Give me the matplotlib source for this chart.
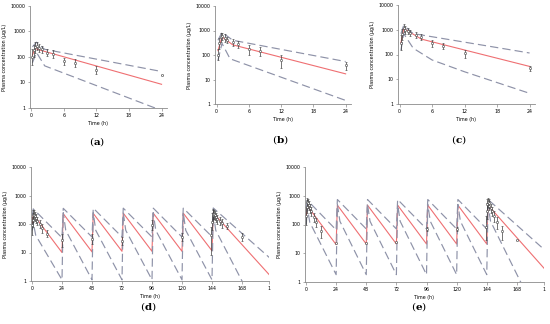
import matplotlib
matplotlib.use("Agg")
import matplotlib.pyplot as plt
import numpy as np

# ---------------------------------------------------------------------
# Data
# ---------------------------------------------------------------------

# single dose panels (a)-(c): observed sampling times
obs_t_single = [0.25, 0.5, 0.75, 1, 1.5, 2, 3, 4, 6, 8, 12, 24]

# (a)
a_med_t = [0.25, 0.75, 1.5, 24]
a_med_v = [120, 220, 190, 8.5]
a_hi_t = [0.25, 1.0, 2.5, 24]
a_hi_v = [250, 380, 200, 27]
a_lo_t = [0.25, 1.0, 2.5, 24]
a_lo_v = [60, 150, 45, 0.8]
a_obs = [100, 180, 250, 270, 230, 200, 150, 130, 70, 60, 32, 20]
a_obs_lo = [50, 100, 150, 180, 160, 140, 110, 90, 50, 40, 22, 20]
a_obs_hi = [200, 300, 400, 380, 330, 280, 200, 180, 95, 80, 45, 20]

# (b)
b_med_t = [0.25, 1.0, 3.0, 24]
b_med_v = [150, 550, 260, 17]
b_hi_t = [0.25, 1.0, 3.0, 24]
b_hi_v = [400, 850, 400, 54]
b_lo_t = [0.25, 1.0, 2.5, 24]
b_lo_v = [60, 300, 70, 1.4]
b_obs = [100, 300, 550, 600, 500, 420, 330, 290, 170, 140, 60, 38]
b_obs_lo = [60, 180, 350, 400, 350, 300, 230, 200, 100, 90, 30, 25]
b_obs_hi = [180, 500, 800, 800, 700, 560, 430, 380, 250, 210, 100, 50]

# (c)
c_med_t = [0.25, 0.75, 1.5, 4, 24]
c_med_v = [300, 1100, 900, 420, 33]
c_hi_t = [0.25, 0.75, 2.5, 24]
c_hi_v = [700, 1500, 700, 115]
c_lo_t = [0.25, 0.75, 2.5, 6, 12, 24]
c_lo_v = [150, 700, 180, 60, 20, 2.7]
c_obs = [300, 700, 1200, 1000, 900, 750, 600, 500, 280, 230, 110, 28]
c_obs_lo = [150, 400, 800, 700, 650, 550, 450, 400, 200, 170, 75, 22]
c_obs_hi = [600, 1100, 1700, 1400, 1200, 1000, 800, 700, 380, 300, 150, 35]

# multiple dose panels (d)-(e): observed sampling times
obs_t_multi = [0.25, 0.5, 1, 1.5, 2, 3, 4, 6, 8, 12, 24, 48, 72, 96, 120,
               143.5, 144.25, 144.5, 145, 145.5, 146, 147, 148, 150, 152, 156, 168]

# (d)
d_med_t = [0.25, 1, 24, 25, 48, 49, 72, 73, 96, 97, 120, 121, 144, 145, 192]
d_med_v = [100, 220, 10, 230, 10.5, 235, 11, 240, 11, 240, 11, 240, 11.5, 245, 1.3]
d_hi_t = [0.25, 1, 24, 25, 48, 49, 72, 73, 96, 97, 120, 121, 144, 145, 192]
d_hi_v = [200, 340, 33, 355, 35, 360, 35, 360, 35, 360, 35, 360, 36, 365, 5.5]
d_lo_t = [0.25, 1, 3, 24, 25, 27, 48, 49, 51, 72, 73, 75, 96, 97, 99, 120,
          121, 123, 144, 145, 147, 168, 180]
d_lo_v = [60, 110, 40, 1.1, 250, 60, 1.1, 250, 60, 1.1, 250, 60, 1.1, 250, 60, 1.1,
          250, 60, 1.1, 250, 60, 1.0, 0.2]
d_obs = [90, 140, 200, 210, 190, 160, 130, 100, 70, 45, 28, 30, 25, 90, 35,
         40, 120, 200, 230, 220, 200, 170, 150, 130, 110, 85, 35]
d_obs_lo = [40, 80, 120, 140, 130, 110, 90, 70, 50, 35, 15, 20, 18, 60, 25,
            8, 60, 120, 150, 150, 140, 120, 100, 90, 75, 65, 25]
d_obs_hi = [180, 250, 300, 300, 270, 230, 180, 140, 100, 60, 45, 45, 35, 140, 50,
            80, 250, 320, 330, 300, 280, 240, 200, 180, 150, 110, 50]

# (e)
e_med_t = [0.25, 1, 24, 25, 48, 49, 72, 73, 96, 97, 120, 121, 144, 145, 192]
e_med_v = [200, 450, 20, 470, 21, 470, 21, 470, 21, 470, 21, 470, 21, 470, 2.3]
e_hi_t = [0.25, 1, 24, 25, 48, 49, 72, 73, 96, 97, 120, 121, 144, 145, 192]
e_hi_v = [400, 700, 65, 740, 70, 740, 70, 740, 70, 740, 70, 740, 70, 740, 11]
e_lo_t = [0.25, 1, 3, 24, 25, 27, 48, 49, 51, 72, 73, 75, 96, 97, 99, 120,
          121, 123, 144, 145, 147, 171, 180]
e_lo_v = [100, 400, 120, 1.8, 500, 130, 1.8, 500, 130, 1.8, 500, 130, 1.8, 500, 130, 1.8,
          500, 130, 1.8, 500, 130, 1.0, 0.4]
e_obs = [200, 400, 600, 550, 480, 380, 300, 180, 120, 60, 22, 22, 25, 70, 70,
         80, 300, 500, 600, 550, 450, 380, 300, 200, 120, 60, 28]
e_obs_lo = [100, 250, 400, 380, 330, 260, 200, 120, 80, 35, 22, 22, 25, 60, 60,
            30, 150, 300, 400, 380, 320, 260, 200, 120, 70, 30, 28]
e_obs_hi = [400, 700, 850, 750, 650, 520, 420, 260, 170, 90, 22, 22, 25, 80, 80,
            200, 550, 800, 850, 780, 650, 520, 420, 300, 180, 90, 28]

y_ticks = [1, 10, 100, 1000, 10000]
y_ticklabels = ["1", "10", "100", "1000", "10000"]
x_ticks_single = [0, 6, 12, 18, 24]
x_ticks_multi = [0, 24, 48, 72, 96, 120, 144, 168, 189.6]
x_ticklabels_multi = ["0", "24", "48", "72", "96", "120", "144", "168", "1"]

RED = "#ef6f72"
DASH = "#8e92a8"
OBS = "#3c3c3c"
AXC = "#8a8a8a"
FS = 3.4

plt.rcParams["mathtext.fontset"] = "dejavuserif"


def draw_panel(ax, med, hi, lo, obs_t, obs, obs_lo, obs_hi, xlim, xticks, xticklabels):
    ax.plot(med[0], med[1], color=RED, lw=0.8)
    ax.plot(hi[0], hi[1], color=DASH, lw=0.85, dashes=(7, 3.5))
    ax.plot(lo[0], lo[1], color=DASH, lw=0.85, dashes=(7, 3.5))
    obs = np.array(obs, dtype=float)
    yerr = [obs - np.array(obs_lo), np.array(obs_hi) - obs]
    ax.errorbar(obs_t, obs, yerr=yerr, fmt="o", ms=1.6, mfc="white", mec=OBS,
                mew=0.4, ecolor=OBS, elinewidth=0.5, capsize=1.0, capthick=0.5)
    ax.set_yscale("log")
    ax.set_ylim(1, 10000)
    ax.set_xlim(*xlim)
    ax.set_yticks(y_ticks)
    ax.set_yticklabels(y_ticklabels)
    ax.minorticks_off()
    ax.set_xticks(xticks)
    ax.set_xticklabels(xticklabels)
    for s in ["top", "right"]:
        ax.spines[s].set_visible(False)
    for s in ["left", "bottom"]:
        ax.spines[s].set_color(AXC)
        ax.spines[s].set_linewidth(0.6)
    ax.tick_params(labelsize=FS, length=1.8, width=0.5, color=AXC, pad=1.8)
    ax.set_xlabel("Time (h)", fontsize=FS, labelpad=2.5)
    ax.set_ylabel("Plasma concentration (\u03bcg/L)", fontsize=FS, labelpad=2)


fig = plt.figure(figsize=(5.5, 3.24), dpi=100)
W, H = 550.0, 324.0


def rect(x0, y0, x1, y1):
    return [x0 / W, 1 - y1 / H, (x1 - x0) / W, (y1 - y0) / H]


ax_a = fig.add_axes(rect(30, 6, 167, 108))
draw_panel(ax_a, (a_med_t, a_med_v), (a_hi_t, a_hi_v), (a_lo_t, a_lo_v),
           obs_t_single, a_obs, a_obs_lo, a_obs_hi, (-0.2, 25), x_ticks_single,
           [str(t) for t in x_ticks_single])

ax_b = fig.add_axes(rect(215, 6, 351, 104))
draw_panel(ax_b, (b_med_t, b_med_v), (b_hi_t, b_hi_v), (b_lo_t, b_lo_v),
           obs_t_single, b_obs, b_obs_lo, b_obs_hi, (-0.3, 25), x_ticks_single,
           [str(t) for t in x_ticks_single])

ax_c = fig.add_axes(rect(398, 5, 535, 104))
draw_panel(ax_c, (c_med_t, c_med_v), (c_hi_t, c_hi_v), (c_lo_t, c_lo_v),
           obs_t_single, c_obs, c_obs_lo, c_obs_hi, (-0.3, 25), x_ticks_single,
           [str(t) for t in x_ticks_single])

ax_d = fig.add_axes(rect(31, 167, 269, 281))
draw_panel(ax_d, (d_med_t, d_med_v), (d_hi_t, d_hi_v), (d_lo_t, d_lo_v),
           obs_t_multi, d_obs, d_obs_lo, d_obs_hi, (-0.8, 189.6), x_ticks_multi,
           x_ticklabels_multi)

ax_e = fig.add_axes(rect(305, 167, 544, 282))
draw_panel(ax_e, (e_med_t, e_med_v), (e_hi_t, e_hi_v), (e_lo_t, e_lo_v),
           obs_t_multi, e_obs, e_obs_lo, e_obs_hi, (-0.8, 189.6), x_ticks_multi,
           x_ticklabels_multi)

for letter, x, y in [("a", 97, 142), ("b", 280, 140), ("c", 459, 140),
                     ("d", 148, 307), ("e", 419, 307)]:
    fig.text(x / W, 1 - y / H, "($\\mathbf{%s}$)" % letter, fontsize=7.5,
             family="DejaVu Serif", ha="center", va="center")

fig.savefig("out.png", dpi=100)
plt.close(fig)
